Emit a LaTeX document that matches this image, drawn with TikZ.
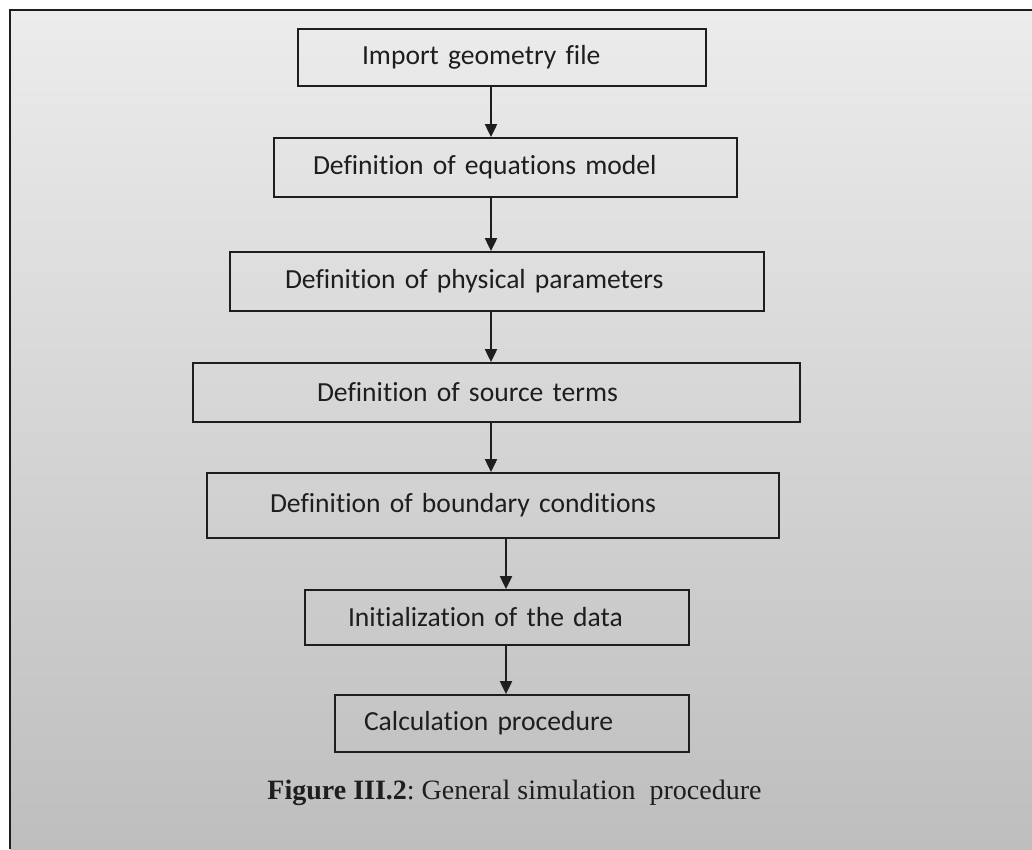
\documentclass[tikz,border=0pt]{standalone}
\usepackage{fontspec}
\usetikzlibrary{arrows.meta,positioning,calc}
\newfontfamily\boxfamily[Ligatures=NoCommon]{Carlito}
\newfontfamily\captfamily{Liberation Serif}
\definecolor{bgtop}{RGB}{236,236,236}
\definecolor{bgbot}{RGB}{190,190,190}
\definecolor{inkgray}{RGB}{30,30,30}

\begin{document}
\begin{tikzpicture}[
        x=1pt, y=-1pt,
        >=Triangle,
        stepbox/.style={
            draw=inkgray, line width=1.8pt, inner xsep=0pt, inner ysep=0pt,
            align=left, text=inkgray,
            font=\boxfamily\fontsize{27.6}{33}\selectfont
        },
        flow/.style={draw=inkgray, line width=2pt, -{Triangle[width=12pt,length=13pt]}}
    ]
    % page and gradient frame
    \useasboundingbox (0,0) rectangle (1032,849);
    \fill[white] (0,0) rectangle (1032,849);
    \shade[top color=bgtop, bottom color=bgbot] (10,10) rectangle (1032,849);
    \draw[line width=2pt, inkgray] (1032,10) -- (10,10) -- (10,849);

    \node[stepbox, text width=408pt, minimum height=57pt] (s1) at (502,57.5) {\hspace*{64pt}Import geometry file};
    \node[stepbox, text width=463pt, minimum height=59pt] (s2) at (505.5,167.5) {\hspace*{39pt}Definition of equations model};
    \node[stepbox, text width=534pt, minimum height=59pt] (s3) at (497,281.5) {\hspace*{55pt}Definition of physical parameters};
    \node[stepbox, text width=607pt, minimum height=59pt] (s4) at (496.5,392.5) {\hspace*{124pt}Definition of source terms};
    \node[stepbox, text width=572pt, minimum height=65pt] (s5) at (493,505.5) {\hspace*{63pt}Definition of boundary conditions};
    \node[stepbox, text width=384pt, minimum height=55pt] (s6) at (497,617.5) {\hspace*{43pt}Initialization of the data};
    \node[stepbox, text width=354pt, minimum height=57pt] (s7) at (512,723.5) {\hspace*{29pt}Calculation procedure};

    % arrow columns
    \coordinate (colA) at (491,0);
    \coordinate (colB) at (506,0);
    \foreach \a/\b in {s1/s2,s2/s3,s3/s4,s4/s5}
        \draw[flow] (\a.south -| colA) -- (\b.north -| colA);
    \foreach \a/\b in {s5/s6,s6/s7}
        \draw[flow] (\a.south -| colB) -- (\b.north -| colB);

    \node[text=inkgray, font=\captfamily\fontsize{28}{34}\selectfont] (cap) at (514.5,793)
        {\textbf{Figure III.2}:\ General simulation\ \ procedure};
\end{tikzpicture}
\end{document}
